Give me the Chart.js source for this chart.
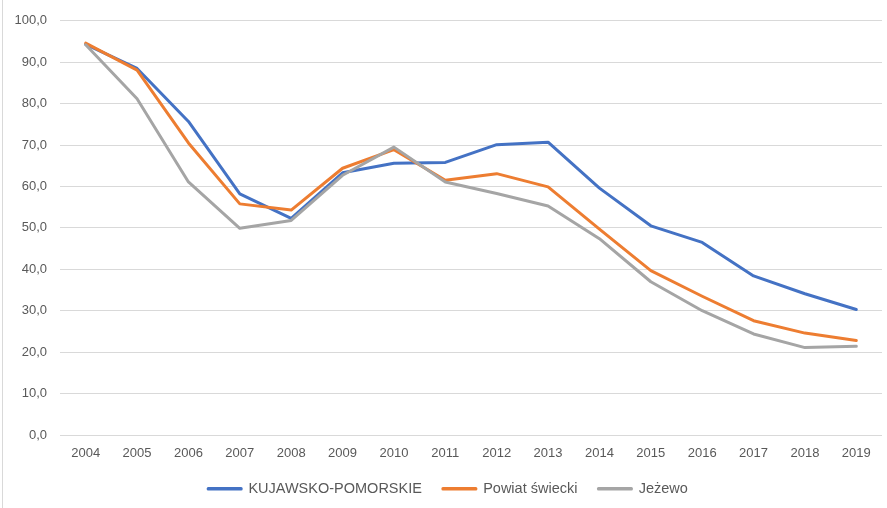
<!DOCTYPE html>
<html>
<head>
<meta charset="utf-8">
<script src="https://cdn.jsdelivr.net/npm/chart.js@4/dist/chart.umd.min.js"></script>
<style>
  html, body { margin: 0; padding: 0; background: #fff; }
  #wrap { position: relative; width: 887px; height: 508px; }
  #wrap::before { content: ''; position: absolute; left: 2px; top: 0; bottom: 0; border-left: 1px solid #d9d9d9; }
  canvas { display: block; }
</style>
</head>
<body>
<div id="wrap"><canvas id="trendChart" width="887" height="508"></canvas></div>
<script>
// Lata i wartości wskaźnika dla trzech jednostek
const years = ['2004', '2005', '2006', '2007', '2008', '2009', '2010', '2011',
               '2012', '2013', '2014', '2015', '2016', '2017', '2018', '2019'];
const kujawskoPomorskie = [94.3, 88.5, 75.7, 58.2, 52.3, 63.3, 65.6, 65.8,
                           70.1, 70.7, 59.6, 50.5, 46.5, 38.4, 34.1, 30.3];
const powiatSwiecki = [94.6, 88.1, 70.5, 55.8, 54.3, 64.4, 68.9, 61.5,
                       63.1, 59.9, 49.7, 39.7, 33.5, 27.6, 24.6, 22.8];
const jezewo = [94.2, 81.2, 61.1, 49.9, 51.8, 62.7, 69.5, 61.1,
                58.3, 55.3, 47.4, 37.0, 30.0, 24.4, 21.1, 21.4];

const FONT = '"Liberation Sans", Arial, sans-serif';
const TEXT_COLOR = '#595959';
const GRID_COLOR = '#d9d9d9';

function series(label, data, color, order) {
  return {
    label: label,
    data: data,
    borderColor: color,
    backgroundColor: color,
    borderWidth: 3,
    pointRadius: 0,
    tension: 0,
    borderJoinStyle: 'round',
    borderCapStyle: 'round',
    order: order
  };
}

const ctx = document.getElementById('trendChart').getContext('2d');
new Chart(ctx, {
  type: 'line',
  data: {
    labels: years,
    datasets: [
      series('KUJAWSKO-POMORSKIE', kujawskoPomorskie, '#4472C4', 3),
      series('Powiat świecki', powiatSwiecki, '#ED7D31', 2),
      series('Jeżewo', jezewo, '#A5A5A5', 1)
    ]
  },
  options: {
    responsive: false,
    animation: false,
    layout: {
      padding: { left: 14, right: 5, top: 19, bottom: 2 }
    },
    plugins: {
      legend: {
        position: 'bottom',
        labels: {
          boxWidth: 33,
          boxHeight: 0.5,
          padding: 21,
          color: TEXT_COLOR,
          font: { family: FONT, size: 14.5 },
          // legenda w kolejności serii, mimo odwrotnej kolejności rysowania
          sort: (a, b) => a.datasetIndex - b.datasetIndex
        }
      },
      tooltip: { enabled: false }
    },
    scales: {
      x: {
        offset: true,
        grid: { display: false, drawTicks: false },
        border: { display: false },
        ticks: {
          color: TEXT_COLOR,
          font: { family: FONT, size: 13 },
          padding: 11,
          maxRotation: 0,
          autoSkip: false
        },
        afterFit: scale => { scale.height = 25.5; }
      },
      y: {
        min: 0,
        max: 100,
        grid: { color: GRID_COLOR, lineWidth: 1, drawTicks: false },
        border: { display: false },
        ticks: {
          stepSize: 10,
          color: TEXT_COLOR,
          font: { family: FONT, size: 13 },
          padding: 13,
          callback: value => value.toFixed(1).replace('.', ',')
        },
        afterFit: scale => { scale.width = 46; }
      }
    }
  }
});
</script>
</body>
</html>
